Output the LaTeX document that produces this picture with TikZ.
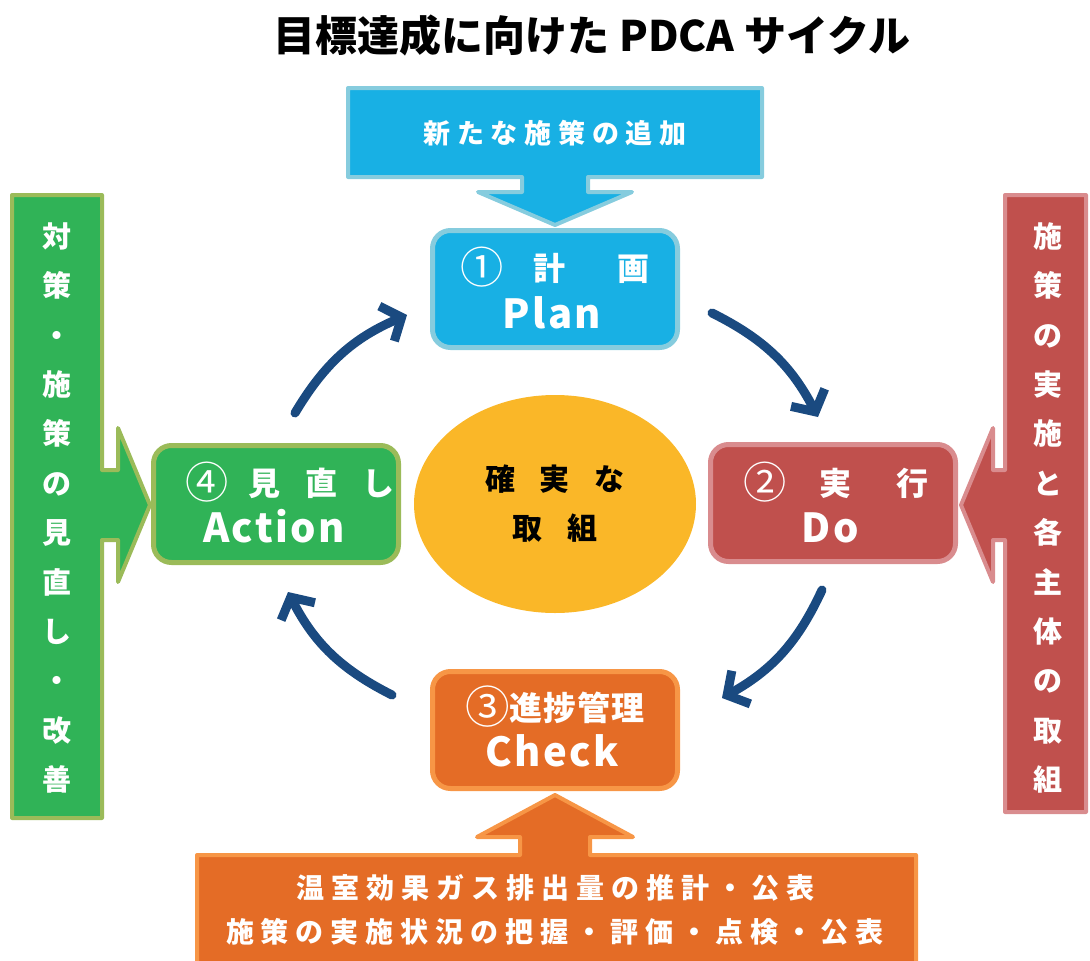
\documentclass[tikz,border=0pt]{standalone}
\usepackage{graphicx}
\usepackage{fontspec}
\setmainfont{Noto Sans CJK JP}
\usetikzlibrary{arrows.meta,positioning,shapes.geometric}

\definecolor{planblue}{RGB}{24,176,228}
\definecolor{planedge}{RGB}{134,204,222}
\definecolor{dored}{RGB}{192,80,77}
\definecolor{doedge}{RGB}{217,140,142}
\definecolor{actgreen}{RGB}{48,179,87}
\definecolor{actedge}{RGB}{155,187,89}
\definecolor{chkorange}{RGB}{228,108,38}
\definecolor{chkedge}{RGB}{247,150,70}
\definecolor{coreyellow}{RGB}{250,183,40}
\definecolor{cycblue}{RGB}{26,74,128}

\newcommand{\jfont}[2]{\fontsize{#1}{#2}\selectfont\bfseries}
\newcommand{\spaced}[1]{\addfontfeature{LetterSpace=#1}}
\newcommand{\stepno}[1]{\raisebox{-0.12em}{\scalebox{1.35}{\mdseries#1}}}

\begin{document}
\begin{tikzpicture}[x=1pt,y=-1pt,
  phase/.style={draw, rounded corners=18pt, line width=5pt,
                minimum width=245pt, minimum height=117pt},
  wtext/.style={text=white, align=center},
  feed/.style={line width=4pt, line join=round},
  cyc/.style={draw=cycblue, line width=9pt, line cap=round,
              -{Straight Barb[length=16pt,width=38pt]}}]
\useasboundingbox (0,0) rectangle (1090,961);

% title
\node[font={\jfont{42}{50}}] (title) at (592,35) {目標達成に向けた PDCA サイクル};

% inputs from outside
\draw[feed, draw=planedge, fill=planblue] (348,88) -- (762,88) -- (762,177)
  -- (588,177) -- (588,192) -- (632,192) -- (555,225) -- (478,192)
  -- (522,192) -- (522,177) -- (348,177) -- cycle;
\node[wtext, font={\jfont{27}{32}\spaced{25}}] (addtxt) at (555,133) {新たな施策の追加};

\draw[feed, draw=actedge, fill=actgreen] (12,195) -- (102,195) -- (102,470)
  -- (118,470) -- (118,428) -- (150,505) -- (118,582) -- (118,540)
  -- (102,540) -- (102,818) -- (12,818) -- cycle;
\node[wtext, font={\jfont{29}{49.4}}] (revtxt) at (57,508)
  {対\\策\\・\\施\\策\\の\\見\\直\\し\\・\\改\\善};

\draw[feed, draw=doedge, fill=dored] (1086,195) -- (1005,195) -- (1005,470)
  -- (993,470) -- (993,428) -- (961,505) -- (993,582) -- (993,540)
  -- (1005,540) -- (1005,812) -- (1086,812) -- cycle;
\node[wtext, font={\jfont{29}{49.4}}] (acttxt) at (1048,508)
  {施\\策\\の\\実\\施\\と\\各\\主\\体\\の\\取\\組};

\draw[feed, draw=chkedge, fill=chkorange] (197,975) -- (197,855) -- (520,855)
  -- (520,837) -- (477,837) -- (555,795) -- (633,837) -- (590,837)
  -- (590,855) -- (916,855) -- (916,975);
\node[wtext, font={\jfont{28}{44}\spaced{25}}] (chktxt) at (555,910)
  {温室効果ガス排出量の推計・公表\\施策の実施状況の把握・評価・点検・公表};

% core
\node[ellipse, fill=coreyellow, minimum width=282pt, minimum height=218pt,
      align=center, font={\jfont{30}{49}}] (core) at (555,504)
  {確\hspace{25pt}実\hspace{25pt}な\\取\hspace{25pt}組};

% the four phases
\node[phase, fill=planblue, draw=planedge] (plan) at (555,289) {};
\node[wtext, anchor=base, font={\jfont{32}{36}}] (plan1) at (555,280)
  {\stepno{①}\hspace{30pt}計\hspace{52pt}画};
\node[wtext, anchor=base, font={\jfont{40}{44}\spaced{6}}] (plan2) at (552,328) {Plan};

\node[phase, fill=dored, draw=doedge] (do) at (833,503) {};
\node[wtext, anchor=base, font={\jfont{32}{36}}] (do1) at (836,495)
  {\stepno{②}\hspace{33pt}実\hspace{45pt}行};
\node[wtext, anchor=base, font={\jfont{40}{44}\spaced{8}}] (do2) at (830,542) {Do};

\node[phase, fill=actgreen, draw=actedge] (act) at (276,504) {};
\node[wtext, anchor=base, font={\jfont{32}{36}}] (act1) at (290,495)
  {\stepno{④}\hspace{19pt}見\hspace{25pt}直\hspace{25pt}し};
\node[wtext, anchor=base, font={\jfont{40}{44}\spaced{6}}] (act2) at (274,542) {Action};

\node[phase, fill=chkorange, draw=chkedge] (chk) at (555,730) {};
\node[wtext, anchor=base, font={\jfont{33}{36}\spaced{3}}] (chk1) at (555,720)
  {\stepno{③}進捗管理};
\node[wtext, anchor=base, font={\jfont{40}{44}\spaced{6}}] (chk2) at (552,766) {Check};

% cycle arrows
\coordinate (pa) at (295,413); \coordinate (pb) at (407,315);
\coordinate (da) at (712,313); \coordinate (db) at (818,417);
\coordinate (ca) at (822,590); \coordinate (cb) at (722,698);
\coordinate (aa) at (392,695); \coordinate (ab) at (288,592);
\draw[cyc] (pa) to[bend left=18] (pb);
\draw[cyc] (da) to[bend left=18] (db);
\draw[cyc] (ca) to[bend left=18] (cb);
\draw[cyc] (aa) to[bend left=18] (ab);
\end{tikzpicture}
\end{document}
